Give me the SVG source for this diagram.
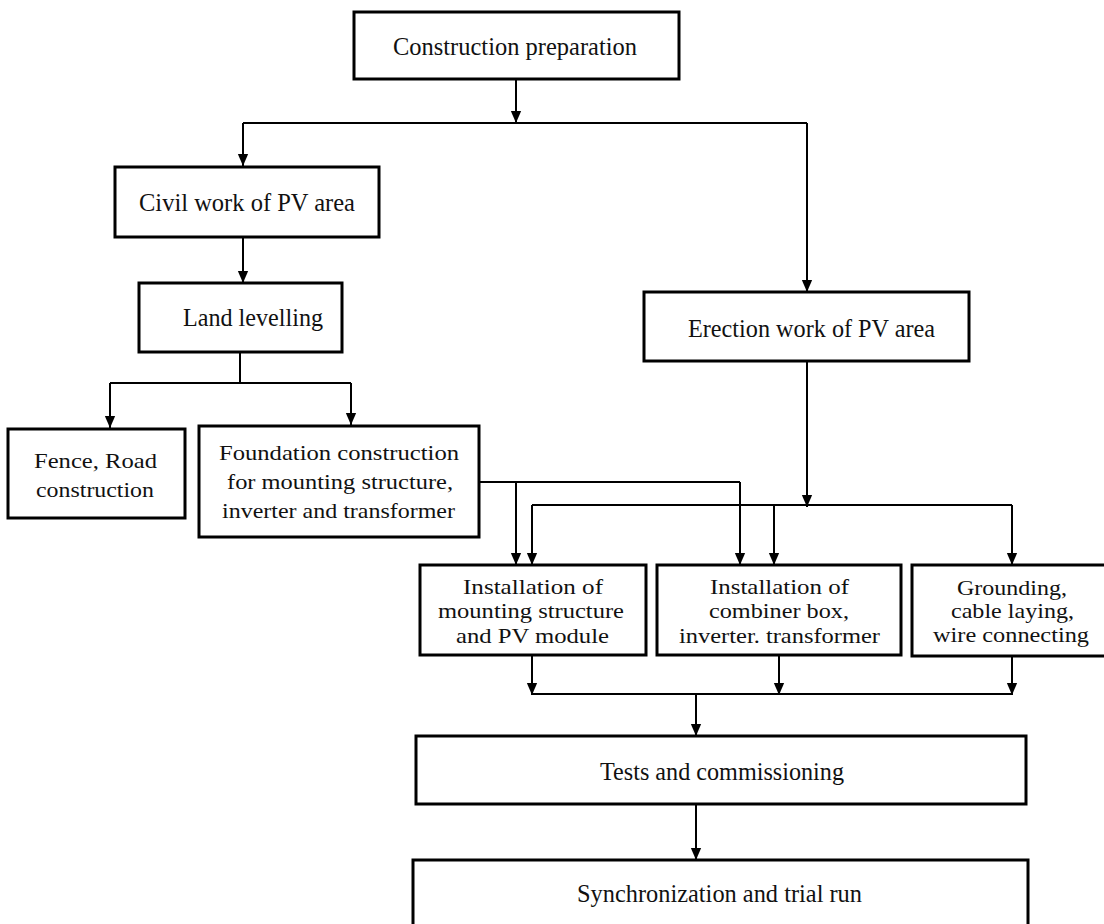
<svg xmlns="http://www.w3.org/2000/svg" width="1104" height="924" viewBox="0 0 1104 924">
<style>
.box{fill:#fff;stroke:#000;stroke-width:3}
text{font-family:'Liberation Serif', 'Times New Roman', Times, serif;font-size:25px;fill:#111}
text.m{font-size:22px}
.c{fill:none;stroke:#000;stroke-width:2}
.a{fill:none;stroke:#000;stroke-width:2;marker-end:url(#ah)}
</style>
<defs>
<marker id="ah" markerUnits="userSpaceOnUse" markerWidth="12" markerHeight="16" refX="14" refY="6" viewBox="0 0 14 12" orient="auto">
<path d="M0,0 L14,6 L0,12 z" fill="#000"/>
</marker>
</defs>
<rect width="1104" height="924" fill="#fff"/>
<g id="connectors">
<path class="a" d="M516,80 V123"/>
<path class="c" d="M243,123 H807"/>
<path class="a" d="M243,123 V166"/>
<path class="a" d="M807,123 V292"/>
<path class="a" d="M243,237 V283"/>
<path class="c" d="M240,352 V383"/>
<path class="c" d="M110,383 H351"/>
<path class="a" d="M110,383 V428"/>
<path class="a" d="M351,383 V425"/>
<path class="c" d="M479,482 H740"/>
<path class="a" d="M740,482 V565"/>
<path class="a" d="M516,482 V565"/>
<path class="a" d="M807,361 V507"/>
<path class="c" d="M532,505 H1012"/>
<path class="a" d="M532,505 V565"/>
<path class="a" d="M774,505 V565"/>
<path class="a" d="M1012,505 V565"/>
<path class="a" d="M532,655 V695"/>
<path class="a" d="M779,655 V695"/>
<path class="a" d="M1012,656 V695"/>
<path class="c" d="M532,694 H1012"/>
<path class="a" d="M696,694 V736"/>
<path class="a" d="M696,804 V860"/>
</g>
<g id="n1"><rect class="box" x="354" y="12" width="325" height="67"/><text x="393" y="55" textLength="244" lengthAdjust="spacingAndGlyphs">Construction preparation</text></g>
<g id="n2"><rect class="box" x="115" y="167" width="264" height="70"/><text x="139" y="211" textLength="216" lengthAdjust="spacingAndGlyphs">Civil work of PV area</text></g>
<g id="n3"><rect class="box" x="139" y="283" width="203" height="69"/><text x="183" y="326" textLength="140" lengthAdjust="spacingAndGlyphs">Land levelling</text></g>
<g id="n4"><rect class="box" x="644" y="292" width="325" height="69"/><text x="688" y="337" textLength="247" lengthAdjust="spacingAndGlyphs">Erection work of PV area</text></g>
<g id="n5"><rect class="box" x="8" y="429" width="177" height="89"/><text class="m" x="34" y="468" textLength="123" lengthAdjust="spacingAndGlyphs">Fence, Road</text><text class="m" x="36" y="497" textLength="118" lengthAdjust="spacingAndGlyphs">construction</text></g>
<g id="n6"><rect class="box" x="199" y="426" width="280" height="111"/><text class="m" x="219" y="460" textLength="240" lengthAdjust="spacingAndGlyphs">Foundation  construction</text><text class="m" x="227" y="489" textLength="226" lengthAdjust="spacingAndGlyphs">for mounting structure,</text><text class="m" x="222" y="518" textLength="233" lengthAdjust="spacingAndGlyphs">inverter and transformer</text></g>
<g id="n7"><rect class="box" x="420" y="565" width="226" height="90"/><text class="m" x="463" y="594" textLength="140" lengthAdjust="spacingAndGlyphs">Installation of</text><text class="m" x="438" y="618" textLength="186" lengthAdjust="spacingAndGlyphs">mounting structure</text><text class="m" x="456" y="643" textLength="153" lengthAdjust="spacingAndGlyphs">and PV module</text></g>
<g id="n8"><rect class="box" x="657" y="565" width="244" height="90"/><text class="m" x="710" y="594" textLength="139" lengthAdjust="spacingAndGlyphs">Installation of</text><text class="m" x="709" y="618" textLength="140" lengthAdjust="spacingAndGlyphs">combiner box,</text><text class="m" x="679" y="643" textLength="201" lengthAdjust="spacingAndGlyphs">inverter. transformer</text></g>
<g id="n9"><rect class="box" x="912" y="565" width="210" height="91"/><text class="m" x="957" y="595" textLength="110" lengthAdjust="spacingAndGlyphs">Grounding,</text><text class="m" x="951" y="618" textLength="123" lengthAdjust="spacingAndGlyphs">cable laying,</text><text class="m" x="933" y="642" textLength="156" lengthAdjust="spacingAndGlyphs">wire connecting</text></g>
<g id="n10"><rect class="box" x="416" y="736" width="610" height="68"/><text x="600" y="780" textLength="244" lengthAdjust="spacingAndGlyphs">Tests and commissioning</text></g>
<g id="n11"><rect class="box" x="413" y="860" width="615" height="80"/><text x="577" y="902" textLength="285" lengthAdjust="spacingAndGlyphs">Synchronization and trial run</text></g>
</svg>
